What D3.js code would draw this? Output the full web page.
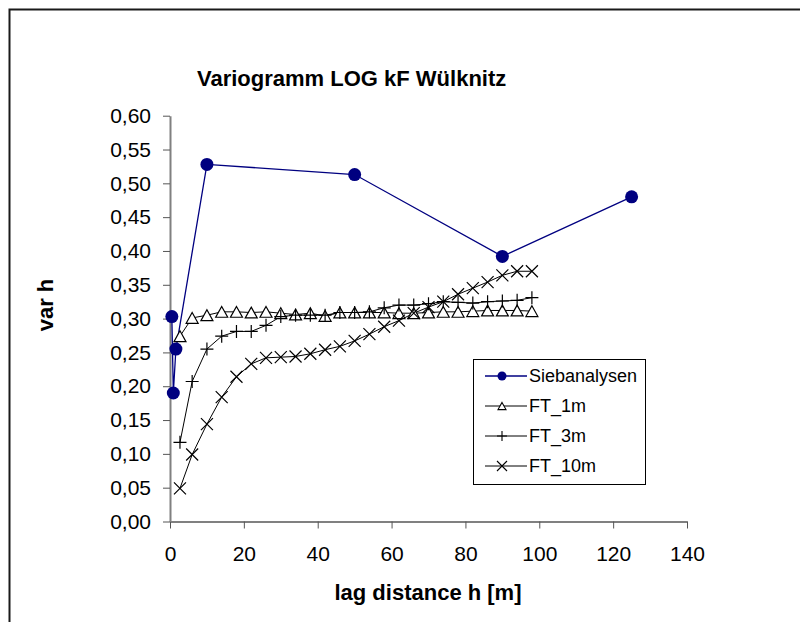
<!DOCTYPE html>
<html>
<head>
<meta charset="utf-8">
<script src="https://cdn.jsdelivr.net/npm/d3@7"></script>
<style>
  html, body { margin: 0; padding: 0; background: #fff; }
  svg { display: block; font-family: "Liberation Sans", Arial, sans-serif; }
</style>
</head>
<body>
<div id="chart"></div>
<script>
// lag classes shared by the three FT series
const lags = [2.7, 6, 10, 14, 18, 22, 26, 30, 34, 38, 42, 46, 50, 54, 58, 62, 66, 70, 74, 78, 82, 86, 90, 94, 98];
const ft1m = [0.274, 0.301, 0.305, 0.310, 0.310, 0.309, 0.310, 0.308, 0.306, 0.308, 0.304, 0.309, 0.309, 0.309, 0.309,
  0.308, 0.308, 0.309, 0.310, 0.310, 0.311, 0.312, 0.312, 0.312, 0.311];
const ft3m = [0.117, 0.207, 0.255, 0.274, 0.281, 0.281, 0.290, 0.303, 0.305, 0.305, 0.305, 0.309, 0.309, 0.310, 0.316,
  0.320, 0.320, 0.322, 0.325, 0.324, 0.323, 0.325, 0.326, 0.327, 0.331];
const ft10m = [0.049, 0.099, 0.144, 0.184, 0.214, 0.233, 0.242, 0.243, 0.244, 0.248, 0.254, 0.259, 0.267, 0.277, 0.288,
  0.297, 0.308, 0.317, 0.325, 0.336, 0.345, 0.354, 0.364, 0.370, 0.370];

const siebX = [0.5, 0.9, 1.6, 10, 50, 90, 125];
const siebY = [0.303, 0.190, 0.255, 0.528, 0.513, 0.392, 0.480];

const xTicks = [0, 20, 40, 60, 80, 100, 120, 140];
const yTicks = [0, 0.05, 0.10, 0.15, 0.20, 0.25, 0.30, 0.35, 0.40, 0.45, 0.50, 0.55, 0.60];

const seriesNames = ['Siebanalysen', 'FT_1m', 'FT_3m', 'FT_10m'];

const width = 800, height = 622;
const svg = d3.select('#chart').append('svg')
  .attr('width', width)
  .attr('height', height);

// chart frame (runs off the right / bottom edge like the original)
svg.append('rect')
  .attr('x', 9.5).attr('y', 9.5)
  .attr('width', 820).attr('height', 700)
  .attr('fill', 'none')
  .attr('stroke', '#1a1a1a')
  .attr('stroke-width', 2);

const x = d3.scaleLinear().domain([0, 140]).range([170, 687]);
const y = d3.scaleLinear().domain([0, 0.6]).range([521.5, 115.7]);

const axisColor = '#808080';

const xAxis = svg.append('g')
  .attr('transform', `translate(0,${y(0)})`)
  .call(d3.axisBottom(x).tickValues(xTicks).tickSize(7).tickSizeOuter(0).tickPadding(18));
const yAxis = svg.append('g')
  .attr('transform', `translate(${x(0)},0)`)
  .call(d3.axisLeft(y).tickValues(yTicks).tickSize(7).tickSizeOuter(0).tickPadding(12)
    .tickFormat(d => d3.format('.2f')(d).replace('.', ',')));

[xAxis, yAxis].forEach(a => {
  a.select('.domain').attr('stroke', axisColor).attr('stroke-width', 2);
  a.selectAll('.tick line').attr('stroke', '#555').attr('stroke-width', 1);
  a.selectAll('.tick text')
    .attr('fill', '#000')
    .attr('font-size', '21px')
    .attr('font-family', '"Liberation Sans", Arial, sans-serif');
});

// titles
svg.append('text')
  .attr('x', 197).attr('y', 86)
  .attr('font-size', '22px').attr('font-weight', 'bold')
  .text('Variogramm LOG kF Wülknitz');

svg.append('text')
  .attr('x', 428).attr('y', 600)
  .attr('text-anchor', 'middle')
  .attr('font-size', '22px').attr('font-weight', 'bold')
  .text('lag distance h [m]');

svg.append('text')
  .attr('transform', 'translate(53,305) rotate(-90)')
  .attr('text-anchor', 'middle')
  .attr('font-size', '22px').attr('font-weight', 'bold')
  .text('var h');

// marker shapes
function triPath(s) {
  const h = s * 0.9;
  return `M0,${-h / 2}L${s / 2},${h / 2}L${-s / 2},${h / 2}Z`;
}
function plusPath(s) {
  return `M${-s / 2},0H${s / 2}M0,${-s / 2}V${s / 2}`;
}
function crossPath(s) {
  return `M${-s / 2},${-s / 2}L${s / 2},${s / 2}M${-s / 2},${s / 2}L${s / 2},${-s / 2}`;
}

const line = d3.line().x(d => x(d[0])).y(d => y(d[1]));

const sieb = d3.zip(siebX, siebY);
const series = [
  { name: 'FT_1m', data: d3.zip(lags, ft1m), marker: triPath, size: 12, fill: '#fff' },
  { name: 'FT_3m', data: d3.zip(lags, ft3m), marker: plusPath, size: 13, fill: 'none' },
  { name: 'FT_10m', data: d3.zip(lags, ft10m), marker: crossPath, size: 12, fill: 'none' },
];

const plot = svg.append('g');

plot.append('path')
  .datum(sieb)
  .attr('d', line)
  .attr('fill', 'none')
  .attr('stroke', '#000080')
  .attr('stroke-width', 1.3);

series.forEach(s => {
  plot.append('path')
    .datum(s.data)
    .attr('d', line)
    .attr('fill', 'none')
    .attr('stroke', '#000')
    .attr('stroke-width', 1);
});

series.forEach(s => {
  plot.append('g')
    .selectAll('path')
    .data(s.data)
    .join('path')
    .attr('transform', d => `translate(${x(d[0])},${y(d[1])})`)
    .attr('d', s.marker(s.size))
    .attr('fill', s.fill)
    .attr('stroke', '#000')
    .attr('stroke-width', 1.2);
});

plot.append('g')
  .selectAll('circle')
  .data(sieb)
  .join('circle')
  .attr('cx', d => x(d[0]))
  .attr('cy', d => y(d[1]))
  .attr('r', 6.5)
  .attr('fill', '#000080');

// legend
const legend = svg.append('g').attr('transform', 'translate(473,359)');
legend.append('rect')
  .attr('x', 0.5).attr('y', 0.5)
  .attr('width', 172).attr('height', 125)
  .attr('fill', '#fff')
  .attr('stroke', '#000')
  .attr('stroke-width', 1);

const legendItems = [
  { name: seriesNames[0], color: '#000080', marker: null },
  { name: seriesNames[1], color: '#000', marker: triPath(8), fill: '#fff' },
  { name: seriesNames[2], color: '#000', marker: plusPath(10), fill: 'none' },
  { name: seriesNames[3], color: '#000', marker: crossPath(10), fill: 'none' },
];

const item = legend.selectAll('g.item')
  .data(legendItems)
  .join('g')
  .attr('class', 'item')
  .attr('transform', (d, i) => `translate(0,${17 + i * 30})`);

item.append('line')
  .attr('x1', 12).attr('x2', 54)
  .attr('stroke', d => d.color)
  .attr('stroke-width', d => d.marker ? 1 : 1.3);

item.each(function (d) {
  const g = d3.select(this);
  if (d.marker) {
    g.append('path')
      .attr('transform', 'translate(29,0)')
      .attr('d', d.marker)
      .attr('fill', d.fill)
      .attr('stroke', '#000')
      .attr('stroke-width', 1.1);
  } else {
    g.append('circle').attr('cx', 29).attr('r', 4.5).attr('fill', '#000080');
  }
});

item.append('text')
  .attr('x', 56)
  .attr('dy', '0.35em')
  .attr('font-size', '18px')
  .text(d => d.name);
</script>
</body>
</html>
